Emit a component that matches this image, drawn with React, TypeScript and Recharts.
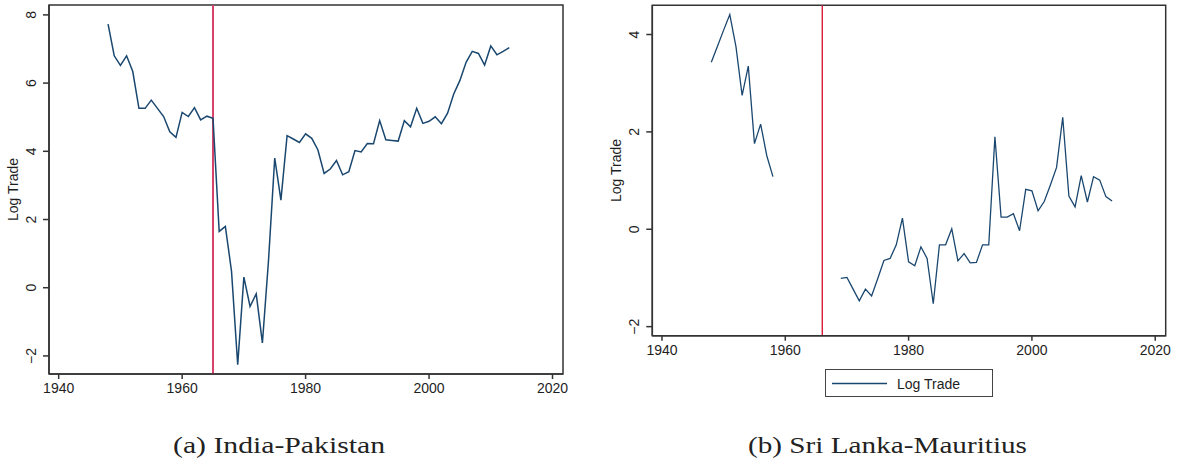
import React from 'react';
import { LineChart, Line, XAxis, YAxis, ReferenceLine, ReferenceArea, Legend } from 'recharts';

const years = [
  1948, 1949, 1950, 1951, 1952, 1953, 1954, 1955, 1956, 1957,
  1958, 1959, 1960, 1961, 1962, 1963, 1964, 1965, 1966, 1967,
  1968, 1969, 1970, 1971, 1972, 1973, 1974, 1975, 1976, 1977,
  1978, 1979, 1980, 1981, 1982, 1983, 1984, 1985, 1986, 1987,
  1988, 1989, 1990, 1991, 1992, 1993, 1994, 1995, 1996, 1997,
  1998, 1999, 2000, 2001, 2002, 2003, 2004, 2005, 2006, 2007,
  2008, 2009, 2010, 2011, 2012, 2013,
];

const logTradeIndiaPakistan = [
  7.73, 6.8, 6.52, 6.8, 6.34, 5.26, 5.26, 5.5, 5.26, 5.02,
  4.57, 4.41, 5.14, 5.02, 5.28, 4.92, 5.03, 4.97, 1.65, 1.8,
  0.48, -2.26, 0.31, -0.55, -0.18, -1.62, 0.82, 3.8, 2.57, 4.46,
  4.36, 4.26, 4.51, 4.38, 4.04, 3.35, 3.48, 3.73, 3.31, 3.4,
  4.02, 3.98, 4.23, 4.22, 4.9, 4.34, 4.32, 4.3, 4.9, 4.72,
  5.26, 4.82, 4.88, 5.01, 4.81, 5.12, 5.68, 6.08, 6.61, 6.93,
  6.87, 6.53, 7.09, 6.83, 6.93, 7.04,
];

const logTradeSriLankaMauritius: (number | null)[] = [
  3.43, 3.76, 4.09, 4.41, 3.75, 2.75, 3.35, 1.76, 2.16, 1.51,
  1.08, null, null, null, null, null, null, null, null, null,
  null, -1.01, -0.99, -1.23, -1.47, -1.23, -1.37, -1.01, -0.64, -0.6,
  -0.32, 0.23, -0.67, -0.75, -0.36, -0.6, -1.53, -0.32, -0.32, 0.01,
  -0.65, -0.5, -0.69, -0.68, -0.32, -0.32, 1.9, 0.25, 0.25, 0.32,
  -0.03, 0.82, 0.79, 0.38, 0.57, 0.91, 1.27, 2.3, 0.68, 0.46,
  1.1, 0.56, 1.08, 1.01, 0.67, 0.58,
];

const xTicks = [1940, 1960, 1980, 2000, 2020];
const yTicksA = [-2, 0, 2, 4, 6, 8];
const yTicksB = [-2, 0, 2, 4];
const xDomain: [number, number] = [1938.43, 2021.7];
const yDomainA: [number, number] = [-2.53, 8.29];
const yDomainB: [number, number] = [-2.186, 4.6];
const eventYearA = 1965;
const eventYearB = 1966;
const seriesName = 'Log Trade';
const captionA = '(a) India-Pakistan';
const captionB = '(b) Sri Lanka-Mauritius';

const dataA = years.map((year, i) => ({ year, value: logTradeIndiaPakistan[i] }));
const dataB = years.map((year, i) => ({ year, value: logTradeSriLankaMauritius[i] }));

const SANS = '"Liberation Sans", Arial, Helvetica, sans-serif';
const SERIF = '"Liberation Serif", "Times New Roman", serif';
const NAVY = '#1a476f';
const AXIS = '#333333';
const TEXT = '#1e1e1e';

const fmt = (v: number) => (v < 0 ? '\u2212' + Math.abs(v) : String(v));

const YTick = (props: any) => {
  const { x, y, payload } = props;
  const bx = x - 7;
  return (
    <text
      x={bx}
      y={y}
      transform={`rotate(-90, ${bx}, ${y})`}
      textAnchor="middle"
      fontSize={14}
      fill={TEXT}
      fontFamily={SANS}
    >
      {fmt(payload.value)}
    </text>
  );
};

const axisTitle = (offsetX: number) => (props: any) => {
  const vb = props.viewBox || { x: 0, y: 0, width: 0, height: 0 };
  const cx = vb.x + offsetX;
  const cy = vb.y + vb.height / 2;
  return (
    <text
      x={cx}
      y={cy}
      transform={`rotate(-90, ${cx}, ${cy})`}
      textAnchor="middle"
      fontSize={14}
      fill={TEXT}
      fontFamily={SANS}
    >
      {seriesName}
    </text>
  );
};

const LegendBox = () => (
  <div
    style={{
      boxSizing: 'border-box',
      width: 168,
      height: 28,
      border: '1px solid #444',
      background: '#fff',
      position: 'relative',
      fontFamily: SANS,
    }}
  >
    <svg width={166} height={26} style={{ position: 'absolute', left: 0, top: 0 }}>
      <line x1={6} x2={61} y1={13.5} y2={13.5} stroke={NAVY} strokeWidth={1.3} />
      <text x={71} y={18.5} fontSize={14} fill={TEXT} fontFamily={SANS}>
        {seriesName}
      </text>
    </svg>
  </div>
);

export default function App() {
  return (
    <div style={{ position: 'absolute', left: 0, top: 0, width: 1180, height: 464, background: '#fff', fontFamily: SANS }}>
      <div style={{ position: 'absolute', left: 0, top: 0 }}>
        <LineChart width={580} height={400} data={dataA} margin={{ top: 5, right: 17, bottom: 0, left: 0 }}>
          <XAxis
            dataKey="year"
            type="number"
            domain={xDomain}
            ticks={xTicks}
            allowDataOverflow
            height={26}
            tickSize={5}
            tickMargin={4}
            stroke={AXIS}
            strokeWidth={1.5}
            tick={{ fontSize: 14, fill: TEXT, fontFamily: SANS }}
          />
          <YAxis
            type="number"
            domain={yDomainA}
            ticks={yTicksA}
            allowDataOverflow
            width={49}
            tickSize={6}
            tickMargin={0}
            stroke={AXIS}
            strokeWidth={1.5}
            tick={<YTick />}
            label={{ content: axisTitle(17.7) }}
          />
          <ReferenceArea
            x1={xDomain[0]}
            x2={xDomain[1]}
            y1={yDomainA[0]}
            y2={yDomainA[1]}
            fill="none"
            fillOpacity={0}
            stroke={AXIS}
            strokeWidth={1.5}
            ifOverflow="visible"
          />
          <ReferenceLine x={eventYearA} stroke="#d6436a" strokeWidth={2} ifOverflow="visible" />
          <Line
            type="linear"
            dataKey="value"
            name={seriesName}
            stroke={NAVY}
            strokeWidth={1.5}
            dot={false}
            activeDot={false}
            isAnimationActive={false}
          />
        </LineChart>
      </div>
      <div style={{ position: 'absolute', left: 600, top: 0 }}>
        <LineChart width={580} height={400} data={dataB} margin={{ top: 5.3, right: 14.3, bottom: 38.3, left: 0 }}>
          <XAxis
            dataKey="year"
            type="number"
            domain={xDomain}
            ticks={xTicks}
            allowDataOverflow
            height={26}
            tickSize={5}
            tickMargin={4}
            stroke={AXIS}
            strokeWidth={1.5}
            tick={{ fontSize: 14, fill: TEXT, fontFamily: SANS }}
          />
          <YAxis
            type="number"
            domain={yDomainB}
            ticks={yTicksB}
            allowDataOverflow
            width={52.3}
            tickSize={6}
            tickMargin={0}
            stroke={AXIS}
            strokeWidth={1.5}
            tick={<YTick />}
            label={{ content: axisTitle(21) }}
          />
          <ReferenceArea
            x1={xDomain[0]}
            x2={xDomain[1]}
            y1={yDomainB[0]}
            y2={yDomainB[1]}
            fill="none"
            fillOpacity={0}
            stroke={AXIS}
            strokeWidth={1.5}
            ifOverflow="visible"
          />
          <ReferenceLine x={eventYearB} stroke="#dc1a3c" strokeWidth={1.4} ifOverflow="visible" />
          <Line
            type="linear"
            dataKey="value"
            name={seriesName}
            stroke={NAVY}
            strokeWidth={1.3}
            dot={false}
            activeDot={false}
            connectNulls={false}
            isAnimationActive={false}
          />
          <Legend
            layout="horizontal"
            verticalAlign="middle"
            align="center"
            content={<LegendBox />}
            wrapperStyle={{ left: 225, top: 369, width: 168, height: 28, right: 'auto', bottom: 'auto' }}
          />
        </LineChart>
      </div>
      <svg width={1180} height={464} style={{ position: 'absolute', left: 0, top: 0, pointerEvents: 'none' }}>
        <text
          x={173}
          y={453}
          fontSize={23}
          fontFamily={SERIF}
          fill="#222"
          textLength={212}
          lengthAdjust="spacingAndGlyphs"
        >
          {captionA}
        </text>
        <text
          x={748}
          y={453}
          fontSize={23}
          fontFamily={SERIF}
          fill="#222"
          textLength={279}
          lengthAdjust="spacingAndGlyphs"
        >
          {captionB}
        </text>
      </svg>
    </div>
  );
}
